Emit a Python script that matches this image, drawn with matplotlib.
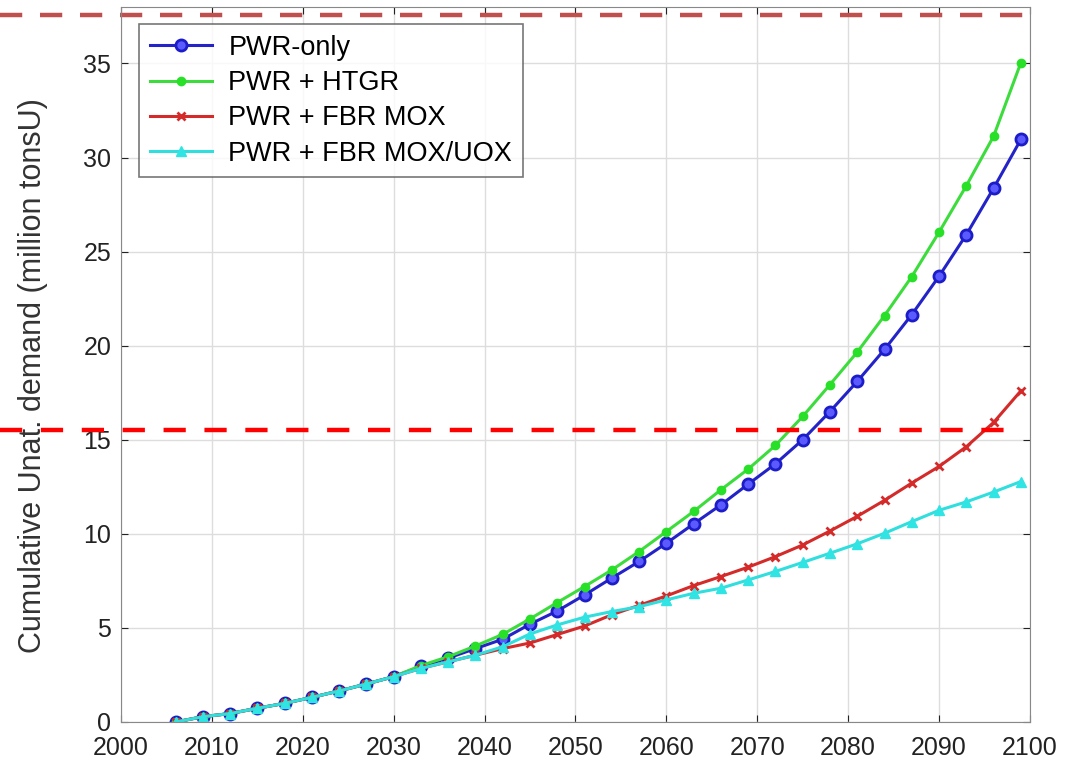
import numpy as np
import matplotlib
matplotlib.use('Agg')
import matplotlib.pyplot as plt

plt.rcParams['font.family'] = ['Liberation Sans', 'DejaVu Sans']

# years (marker every 3 years)
years = list(range(2006, 2100, 3))

# common start 2006..2030
common = [0.0, 0.28, 0.45, 0.73, 0.99, 1.31, 1.65, 2.02, 2.41]

pwr_only = common + [2.95, 3.4, 3.9, 4.4, 5.2, 5.9, 6.75, 7.65, 8.53, 9.5,
                     10.53, 11.54, 12.64, 13.72, 15.0, 16.5, 18.1, 19.8,
                     21.65, 23.69, 25.9, 28.37, 30.96]
pwr_htgr = common + [3.0, 3.47, 4.04, 4.66, 5.48, 6.35, 7.2, 8.08, 9.06, 10.12,
                     11.19, 12.34, 13.44, 14.7, 16.24, 17.93, 19.66, 21.6,
                     23.67, 26.03, 28.5, 31.13, 35.04]
pwr_mox = common + [2.85, 3.2, 3.55, 3.9, 4.2, 4.65, 5.1, 5.7, 6.2, 6.7,
                    7.25, 7.73, 8.23, 8.79, 9.41, 10.15, 10.93, 11.78,
                    12.7, 13.58, 14.63, 15.92, 17.6]
pwr_mox_uox = common + [2.85, 3.2, 3.55, 4.0, 4.68, 5.16, 5.57, 5.87, 6.13, 6.49,
                        6.84, 7.11, 7.55, 8.0, 8.48, 8.97, 9.47, 10.03,
                        10.65, 11.25, 11.7, 12.22, 12.78]

labels = ['PWR-only', 'PWR + HTGR', 'PWR + FBR MOX', 'PWR + FBR MOX/UOX']

# dashed reference levels drawn over the chart
top_level = 37.6
mid_level = 15.5

fig = plt.figure(figsize=(10.65, 7.58), dpi=100)
ax = fig.add_axes([0.1136, 0.0475, 0.8535, 0.9433])

ax.plot(years, pwr_only, '-o', color='#2323c8', lw=2.2, ms=8, mfc='#5a5aff',
        mec='#1c1cc8', mew=2, label=labels[0])
ax.plot(years, pwr_htgr, '-o', color='#3ddc3d', lw=2.2, ms=6, mfc='#28e028',
        mec='#28e028', label=labels[1])
ax.plot(years, pwr_mox, '-x', color='#d42a2a', lw=2.2, ms=6, mew=2,
        label=labels[2])
ax.plot(years, pwr_mox_uox, '-^', color='#30dede', lw=2.2, ms=7, mfc='#30e4e4',
        mec='#30e4e4', label=labels[3])

ax.set_xlim(2000, 2100)
ax.set_ylim(0, 38)
ax.set_xticks(range(2000, 2101, 10))
ax.set_yticks(range(0, 36, 5))
ax.tick_params(direction='in', top=True, right=True, labelsize=18,
               colors='#222222', length=5)
ax.tick_params(axis='x', pad=10)
ax.tick_params(axis='y', pad=7)
ax.grid(True, color='#dddddd', lw=1)
for s in ax.spines.values():
    s.set_color('#888888')
ax.set_ylabel('Cumulative Unat. demand (million tonsU)', fontsize=22,
              color='#333333')
ax.yaxis.set_label_coords(-0.08, 0.485)

leg = ax.legend(loc='upper left', bbox_to_anchor=(0.0198, 0.976), fontsize=19.5,
                frameon=True, fancybox=False, edgecolor='#555555',
                handlelength=2.3, borderpad=0.4, labelspacing=0.34,
                handletextpad=0.6, borderaxespad=0)
leg.get_frame().set_linewidth(1.2)

ax.axhline(top_level, xmin=-0.133, xmax=1.002, color='#c0504d', lw=3.2,
           ls=(0, (5, 4)), clip_on=False)
ax.axhline(mid_level, xmin=-0.133, xmax=0.986, color='#ff0000', lw=3.2,
           ls=(0, (5, 4.2)), clip_on=False)

fig.savefig('out.png', dpi=100)
